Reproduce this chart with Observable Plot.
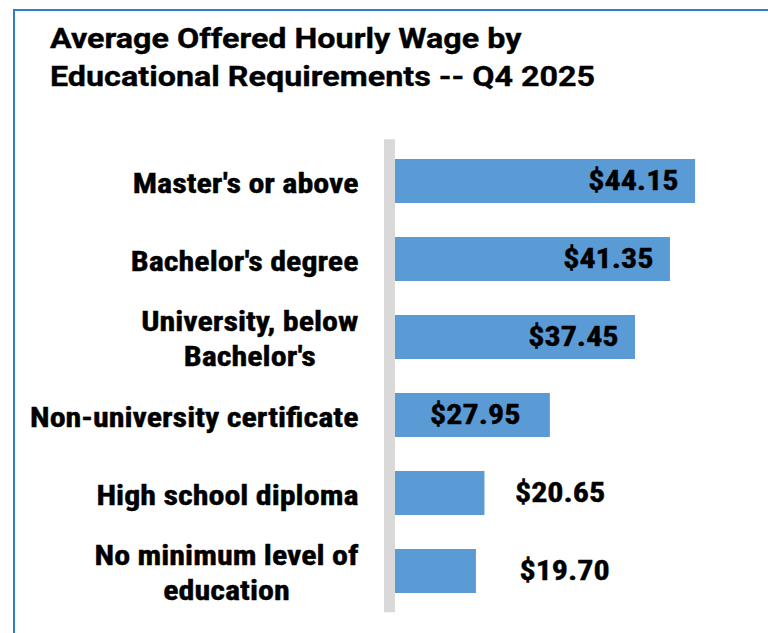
<!DOCTYPE html>
<html><head><meta charset="utf-8">
<script src="https://cdn.jsdelivr.net/npm/d3@7"></script>
<script src="https://cdn.jsdelivr.net/npm/@observablehq/plot@0.6"></script>
<style>
body{margin:0;background:#fff;width:768px;height:633px;overflow:hidden;position:relative;font-family:Roboto,sans-serif}
#frame{position:absolute;left:13px;top:9px;right:-10px;bottom:-10px;border-left:2px solid #2e7bcf;border-top:2px solid #2e7bcf}
#title{position:absolute;left:50px;top:19.5px;font:700 28px/38.4px Roboto,sans-serif;color:#000;white-space:nowrap;transform:scaleX(1.153);transform-origin:0 0;-webkit-text-stroke:0.35px #000}
#chart{position:absolute;left:0;top:100px}
</style></head><body>
<div id="frame"></div>
<div id="title">Average Offered Hourly Wage by<br>Educational Requirements -- Q4 2025</div>
<div id="chart"></div>
<script>
const categories = ["Master's or above", "Bachelor's degree", "University, below Bachelor's", "Non-university certificate", "High school diploma", "No minimum level of education"];
const tickLabels = ["Master's or above", "Bachelor's degree", "University, below\nBachelor's", "Non-university certificate", "High school diploma", "No minimum level of\neducation"];
const wages = [44.15, 41.35, 37.45, 27.95, 20.65, 19.70];
const xDomain = [10, 50];

const data = categories.map((c, i) => ({cat: c, label: tickLabels[i], wage: wages[i]}));
const fmt = d3.format("$.2f");
const FONT = '"Roboto Condensed","Liberation Sans Narrow","DejaVu Sans Condensed",Roboto,sans-serif';
const txt = {fontFamily: FONT, fontWeight: 700, fontSize: 28, fill: "#000", stroke: "#000", strokeWidth: 0.4};
const STRETCH = 1.145;

const plot = Plot.plot({
  width: 768,
  height: 533,
  marginLeft: 389,
  marginRight: 20.5,
  marginTop: 39.3,
  marginBottom: 20.7,
  x: {domain: xDomain, axis: null},
  y: {domain: categories, axis: null, paddingInner: 0.442, paddingOuter: 0.221},
  marks: [
    Plot.barX(data, {y: "cat", x1: xDomain[0], x2: "wage", fill: "#5b9bd5"}),
    Plot.ruleX([xDomain[0]], {stroke: "#d9d9d9", strokeWidth: 11}),
    Plot.text(data, {x: xDomain[0], y: "cat", text: "label", textAnchor: "end", dx: -31, lineHeight: 1.25, ...txt}),
    Plot.text(data.filter(d => d.wage > 35), {x: "wage", y: "cat", text: d => fmt(d.wage), textAnchor: "end", dx: -17, ...txt}),
    Plot.text(data.filter(d => d.wage > 25 && d.wage <= 35), {x: "wage", y: "cat", text: d => fmt(d.wage), textAnchor: "end", dx: -30, ...txt}),
    Plot.text(data.filter(d => d.wage > 20 && d.wage <= 25), {x: "wage", y: "cat", text: d => fmt(d.wage), textAnchor: "start", dx: 30, ...txt}),
    Plot.text(data.filter(d => d.wage <= 20), {x: "wage", y: "cat", text: d => fmt(d.wage), textAnchor: "start", dx: 43, ...txt})
  ]
});
document.getElementById("chart").appendChild(plot);

const textGroups = plot.querySelectorAll('g[aria-label="text"]');
// center multi-line labels within their block (block stays right-aligned)
textGroups[0].querySelectorAll("text").forEach(t => {
  const spans = t.querySelectorAll("tspan");
  if (spans.length < 2) return;
  const w = t.getBBox().width;
  t.setAttribute("text-anchor", "middle");
  spans.forEach(s => s.setAttribute("x", -w / 2));
});
// widen the condensed glyphs around each anchor
textGroups.forEach(g => g.querySelectorAll("text").forEach(t => {
  t.setAttribute("transform", (t.getAttribute("transform") || "") + ` scale(${STRETCH},1)`);
}));
</script>
</body></html>
